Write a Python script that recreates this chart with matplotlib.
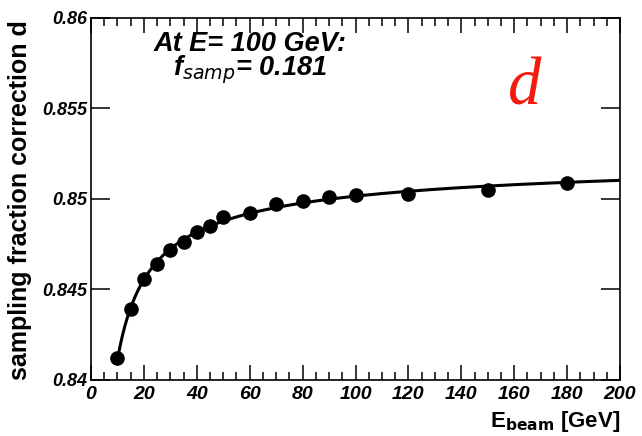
import numpy as np
import matplotlib.pyplot as plt
from matplotlib.ticker import MultipleLocator, FixedLocator

# beam energies (GeV) and measured correction d
energy = [10, 15, 20, 25, 30, 35, 40, 45, 50, 60, 70, 80, 90, 100, 120, 150, 180]
corr_d = [0.8412, 0.8439, 0.8456, 0.8464, 0.8472, 0.8476, 0.8482, 0.8485, 0.8490,
          0.8492, 0.8497, 0.8499, 0.8501, 0.8502, 0.8503, 0.8505, 0.8509]

x_ticks = [0, 20, 40, 60, 80, 100, 120, 140, 160, 180, 200]
y_ticks = [0.84, 0.845, 0.85, 0.855, 0.86]
y_tick_labels = ['0.84', '0.845', '0.85', '0.855', '0.86']

plt.rcParams['font.family'] = ['Liberation Sans', 'DejaVu Sans']

# least-squares fit d(E) = a + b/sqrt(E) + c/E
e = np.array(energy, dtype=float)
basis = np.column_stack([np.ones_like(e), 1 / np.sqrt(e), 1 / e])
coef, *_ = np.linalg.lstsq(basis, np.array(corr_d), rcond=None)
e_fit = np.linspace(10, 200, 400)
d_fit = coef[0] + coef[1] / np.sqrt(e_fit) + coef[2] / e_fit

fig = plt.figure(figsize=(6.42, 4.36), dpi=100)
ax = fig.add_axes([91 / 642, 56 / 436, 529 / 642, 362 / 436])

ax.plot(e_fit, d_fit, color='black', lw=2.2, zorder=2)
ax.plot(energy, corr_d, 'o', color='black', ms=9.5, zorder=3)

ax.set_xlim(0, 200)
ax.set_ylim(0.84, 0.86)

ax.xaxis.set_major_locator(FixedLocator(x_ticks))
ax.xaxis.set_minor_locator(MultipleLocator(5))
ax.yaxis.set_major_locator(FixedLocator(y_ticks))
ax.set_yticklabels(y_tick_labels)

ax.tick_params(axis='both', which='both', direction='in', top=True, right=True, width=1.1)
ax.tick_params(axis='x', which='major', length=11, pad=4, labelsize=14)
ax.tick_params(axis='x', which='minor', length=5.5)
ax.tick_params(axis='y', which='major', length=14, pad=3, labelsize=13)
for lab in ax.get_xticklabels() + ax.get_yticklabels():
    lab.set_fontweight('bold')
    lab.set_fontstyle('italic')
for sp in ax.spines.values():
    sp.set_linewidth(1.2)

ax.set_xlabel(r'E$_{\mathbf{beam}}$ [GeV]', fontsize=16, fontweight='bold')
ax.xaxis.set_label_coords(1.0, -0.08)
ax.xaxis.label.set_horizontalalignment('right')
ax.set_ylabel('sampling fraction correction d', fontsize=18, fontweight='bold')
ax.yaxis.set_label_coords(-0.112, 0.995)
ax.yaxis.label.set_horizontalalignment('right')

ax.text(0.30, 0.91, 'At E= 100 GeV:', transform=ax.transAxes, ha='center', va='baseline',
        fontsize=19.5, fontweight='bold', fontstyle='italic')
ax.text(0.30, 0.84, r'f$_{\mathit{samp}}$= 0.181', transform=ax.transAxes, ha='center', va='baseline',
        fontsize=19.5, fontweight='bold', fontstyle='italic')
ax.text(0.82, 0.807, 'd', transform=ax.transAxes, ha='center', va='center',
        fontsize=48, fontstyle='italic', family='Liberation Serif', color='#f01c10')

fig.savefig('out.png', dpi=100)
